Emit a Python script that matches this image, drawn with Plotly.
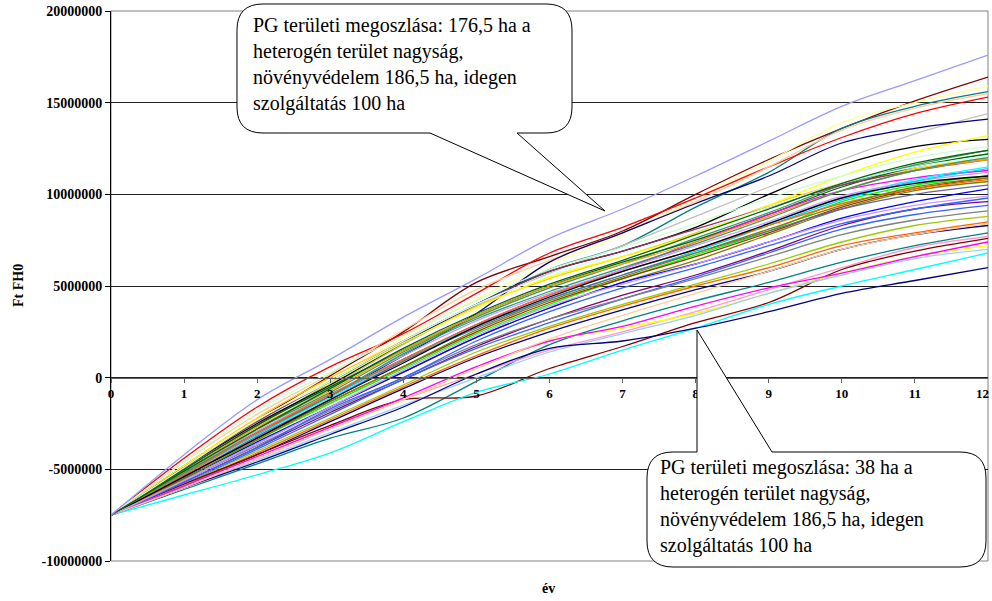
import plotly.graph_objects as go

# ---------------- data (values in million Ft) ----------------
years = list(range(0, 13))
x_tick_labels = [str(v) for v in years]
y_tick_values = [-10000000, -5000000, 0, 5000000, 10000000, 15000000, 20000000]

l01 = [-7.5, -4.2, -1.2, 1.0, 3.3, 5.4, 7.6, 9.2, 11.0, 12.9, 14.8, 16.2, 17.6]
l02 = [-7.5, -4.8, -2.3, 0.1, 2.5, 5.2, 6.6, 8.0, 10.0, 11.9, 13.6, 15.1, 16.4]
l03 = [-7.5, -4.9, -2.4, -0.1, 2.2, 4.3, 6.2, 7.8, 9.8, 11.8, 13.9, 15.0, 15.9]
l04 = [-7.5, -5.0, -2.6, -0.3, 2.0, 4.0, 5.9, 7.2, 9.3, 11.2, 13.6, 14.8, 15.6]
l05 = [-7.5, -4.4, -1.6, 0.6, 2.4, 4.6, 6.8, 8.2, 9.8, 11.5, 13.1, 14.4, 15.3]
l06 = [-7.5, -4.6, -2.0, 0.2, 2.6, 4.8, 6.4, 7.9, 9.6, 11.5, 13.5, 14.7, 15.5]
l07 = [-7.5, -5.2, -2.8, -0.5, 1.8, 3.9, 5.7, 7.2, 8.8, 10.4, 11.9, 13.3, 14.4]
l08 = [-7.5, -5.3, -3.0, -1.0, 1.2, 3.5, 6.3, 7.9, 9.5, 11.0, 12.8, 13.6, 14.1]
l09 = [-7.5, -4.8, -2.2, 0.0, 2.0, 3.9, 5.4, 6.6, 7.9, 9.4, 10.6, 11.4, 12.0]
l10 = [-7.5, -4.9, -2.5, -0.4, 1.9, 4.0, 5.8, 6.9, 8.2, 10.0, 11.6, 12.6, 13.0]
l11 = [-7.5, -4.8, -2.3, -0.3, 1.9, 3.8, 5.5, 6.6, 7.8, 9.4, 11.0, 12.3, 13.2]
l12 = [-7.5, -5.1, -2.8, -0.8, 1.4, 3.3, 4.9, 6.2, 7.6, 9.0, 10.5, 11.6, 12.4]
l13 = [-7.5, -5.0, -2.6, -0.5, 1.5, 3.4, 5.0, 6.3, 7.5, 8.9, 10.4, 11.5, 12.2]
l14 = [-7.5, -4.9, -2.4, -0.2, 2.0, 4.0, 5.8, 6.9, 8.1, 9.3, 10.5, 11.3, 11.9]
l15 = [-7.5, -5.2, -3.0, -1.0, 1.0, 2.9, 4.5, 5.9, 7.4, 8.9, 10.2, 10.9, 11.3]
l16 = [-7.5, -5.3, -3.1, -1.1, 0.9, 2.8, 4.4, 5.8, 7.0, 8.4, 9.8, 10.8, 11.5]
l17 = [-7.5, -5.2, -2.9, -0.9, 1.2, 3.1, 4.6, 5.9, 7.2, 8.5, 9.9, 10.7, 11.2]
l18 = [-7.5, -5.5, -3.4, -1.4, 0.5, 2.4, 4.0, 5.4, 6.7, 8.0, 9.6, 10.5, 11.0]
l19 = [-7.5, -5.4, -3.3, -1.3, 0.6, 2.5, 4.1, 5.4, 6.6, 7.9, 9.3, 10.3, 10.9]
l20 = [-7.5, -5.6, -3.6, -1.6, 0.3, 2.2, 3.8, 5.2, 6.4, 7.8, 9.2, 10.2, 10.7]
l21 = [-7.5, -5.5, -3.5, -1.6, 0.3, 2.2, 3.8, 5.2, 6.2, 7.4, 8.7, 9.6, 10.3]
l22 = [-7.5, -5.7, -3.8, -1.9, -0.1, 1.7, 3.2, 4.5, 5.6, 6.9, 8.3, 9.2, 9.6]
l23 = [-7.5, -5.8, -3.9, -2.0, -0.1, 1.6, 3.0, 4.3, 5.5, 6.8, 8.1, 8.9, 9.4]
l24 = [-7.5, -5.6, -3.7, -1.8, 0.0, 1.8, 3.2, 4.3, 5.4, 6.6, 7.8, 8.6, 9.1]
l25 = [-7.5, -5.8, -4.0, -2.2, -0.4, 1.4, 2.8, 4.0, 5.1, 6.2, 7.4, 8.3, 8.8]
l26 = [-7.5, -5.9, -4.1, -2.3, -0.5, 1.2, 2.7, 3.9, 5.0, 6.0, 7.2, 7.9, 8.5]
l27 = [-7.5, -5.9, -4.2, -2.4, -0.6, 1.1, 2.5, 3.7, 4.8, 5.8, 7.0, 7.8, 8.3]
l28 = [-7.5, -6.1, -4.7, -3.3, -2.2, -0.2, 1.8, 3.1, 4.2, 5.2, 6.3, 7.2, 7.9]
l29 = [-7.5, -6.0, -4.4, -2.8, -1.2, 0.2, 1.5, 2.5, 3.6, 4.8, 6.0, 7.1, 7.7]
l30 = [-7.5, -5.8, -4.2, -2.6, -1.2, -1.0, 0.5, 1.7, 3.0, 4.1, 5.9, 6.9, 7.6]
l31 = [-7.5, -5.9, -4.3, -2.7, -1.2, 0.5, 2.0, 2.7, 3.5, 4.6, 5.7, 6.6, 7.2]
l32 = [-7.5, -6.0, -4.5, -3.0, -1.5, 0.0, 1.4, 2.4, 3.4, 4.6, 5.6, 6.5, 7.0]
l33 = [-7.5, -6.4, -5.3, -4.1, -2.4, -0.8, 0.2, 1.5, 2.7, 4.0, 5.0, 5.9, 6.8]
l34 = [-7.5, -6.0, -4.6, -3.1, -1.6, 0.2, 1.6, 2.0, 2.7, 3.6, 4.6, 5.3, 6.0]
l35 = [-7.5, -5.9, -4.3, -2.7, -1.1, 0.6, 2.0, 2.8, 3.9, 4.9, 5.7, 6.6, 7.4]
l36 = [-7.5, -5.3, -3.1, -1.0, 1.0, 2.8, 4.3, 5.6, 6.9, 8.3, 9.7, 10.7, 11.4]
l37 = [-7.5, -4.6, -1.8, 0.3, 2.3, 4.2, 5.9, 7.1, 8.4, 9.8, 11.0, 12.0, 12.6]
l38 = [-7.5, -4.9, -2.3, -0.2, 2.0, 4.0, 5.6, 6.8, 8.0, 9.3, 10.6, 11.5, 12.1]
l39 = [-7.5, -5.1, -2.7, -0.7, 1.5, 3.4, 5.0, 6.2, 7.4, 8.8, 10.2, 11.3, 11.9]
l40 = [-7.5, -5.4, -3.2, -1.2, 0.9, 2.7, 4.3, 5.6, 6.8, 8.0, 9.2, 10.0, 10.5]
l41 = [-7.5, -5.2, -3.0, -1.0, 1.3, 3.2, 4.7, 6.0, 7.3, 8.7, 10.2, 11.3, 12.0]
l42 = [-7.5, -5.7, -3.8, -1.7, 0.0, 2.0, 3.6, 4.9, 6.0, 7.2, 8.4, 9.2, 9.8]
l43 = [-7.5, -5.3, -3.0, -0.9, 1.0, 2.9, 4.5, 5.8, 7.0, 8.3, 9.5, 10.3, 10.8]
l44 = [-7.5, -5.5, -3.4, -1.3, 0.6, 2.6, 4.2, 5.5, 6.8, 8.1, 9.4, 10.4, 10.9]
l45 = [-7.5, -6.0, -4.4, -2.8, -1.2, 0.5, 2.1, 3.4, 4.6, 5.8, 7.0, 7.8, 8.4]
l46 = [-7.5, -5.4, -3.3, -1.2, 0.8, 2.8, 4.4, 5.8, 7.0, 8.4, 9.8, 10.6, 11.0]
l47 = [-7.5, -5.6, -3.6, -1.6, 0.4, 2.3, 3.9, 5.1, 6.2, 7.4, 8.6, 9.4, 9.9]
l48 = [-7.5, -5.1, -2.8, -0.6, 1.6, 3.5, 5.1, 6.4, 7.8, 9.2, 10.6, 11.7, 12.4]

series_values = [l02, l03, l04, l05, l06, l07, l08, l09, l10, l11, l12, l13,
                 l14, l15, l16, l17, l18, l19, l20, l21, l22, l23, l24, l25,
                 l26, l27, l28, l29, l30, l31, l32, l33, l34, l35, l36, l37,
                 l38, l39, l40, l41, l42, l43, l44, l45, l46, l47, l48, l01]
series_colors = ["#800000", "#FFFF99", "#008080", "#FF0000", "#FFCC99",
                 "#C0C0C0", "#000080", "#FFCC00", "#000000", "#FFFF00", "#339966",
                 "#006600", "#993366", "#FF00FF", "#00FFFF", "#CC99FF", "#00FF00",
                 "#993300", "#808000", "#0000FF", "#800080", "#3366FF", "#808080",
                 "#99CC00", "#FF6600", "#000080", "#008080", "#FF99CC", "#800000",
                 "#FFFF00", "#99CCFF", "#00FFFF", "#000080", "#FF00FF", "#00CCFF",
                 "#CCFFCC", "#CCFFFF", "#FF9900", "#666699", "#339966", "#3366FF",
                 "#FF6600", "#808000", "#FFCC99", "#000000", "#CC99FF", "#006600",
                 "#9999FF"]

callout_top_text = ("PG területi megoszlása: 176,5 ha a<br>heterogén terület nagyság,"
                    "<br>növényvédelem 186,5 ha, idegen<br>szolgáltatás 100 ha")
callout_bottom_text = ("PG területi megoszlása: 38 ha a<br>heterogén terület nagyság,"
                       "<br>növényvédelem 186,5 ha, idegen<br>szolgáltatás 100 ha")

# ---------------- figure ----------------
W, H = 992, 601
ML, MR, MT, MB = 111, 4, 11, 40
PW, PH = W - ML - MR, H - MT - MB


def px(xp):
    return (xp - ML) / PW


def py(yp):
    return (H - MB - yp) / PH


fig = go.Figure()
for vals, col in zip(series_values, series_colors):
    fig.add_trace(go.Scatter(
        x=years, y=[v * 1e6 for v in vals], mode="lines",
        line=dict(color=col, width=1.3, shape="spline", smoothing=1.0),
        showlegend=False, hoverinfo="skip"))

serif = "Liberation Serif"


def callout_path(x0, y0, x1, y1, r, side, b0, b1, tip):
    # rounded rect with a wedge on top or bottom edge (pixel coords)
    P = lambda a, b: f"{px(a):.5f},{py(b):.5f}"
    s = f"M {P(x0 + r, y0)} "
    if side == "top":
        s += f"L {P(b0, y0)} L {P(*tip)} L {P(b1, y0)} "
    s += f"L {P(x1 - r, y0)} Q {P(x1, y0)} {P(x1, y0 + r)} "
    s += f"L {P(x1, y1 - r)} Q {P(x1, y1)} {P(x1 - r, y1)} "
    if side == "bottom":
        s += f"L {P(b1, y1)} L {P(*tip)} L {P(b0, y1)} "
    s += f"L {P(x0 + r, y1)} Q {P(x0, y1)} {P(x0, y1 - r)} "
    s += f"L {P(x0, y0 + r)} Q {P(x0, y0)} {P(x0 + r, y0)} Z"
    return s


fig.add_shape(type="path", xref="paper", yref="paper",
              path=callout_path(237, 4, 572, 133, 26, "bottom", 430, 517, (605, 211)),
              line=dict(color="black", width=1), fillcolor="white", layer="above")
fig.add_shape(type="path", xref="paper", yref="paper",
              path=callout_path(647, 452, 986, 567, 26, "top", 697, 772, (697, 330)),
              line=dict(color="black", width=1), fillcolor="white", layer="above")

fig.add_annotation(xref="paper", yref="paper", x=px(251), y=py(12),
                   xanchor="left", yanchor="top", align="left", showarrow=False,
                   text=callout_top_text, font=dict(family=serif, size=20, color="black"))
fig.add_annotation(xref="paper", yref="paper", x=px(658), y=py(454),
                   xanchor="left", yanchor="top", align="left", showarrow=False,
                   text=callout_bottom_text, font=dict(family=serif, size=20, color="black"))

fig.add_annotation(xref="paper", yref="paper", x=px(18), y=0.5, textangle=-90,
                   xanchor="center", yanchor="middle",
                   showarrow=False, text="<b>Ft FH0</b>",
                   font=dict(family=serif, size=14, color="black"))
fig.add_annotation(xref="paper", yref="paper", x=px(548), y=py(588),
                   xanchor="center", yanchor="middle",
                   showarrow=False, text="<b>év</b>",
                   font=dict(family=serif, size=14, color="black"))
# last x tick label, nudged left so it stays inside the picture
fig.add_annotation(xref="x", yref="y", x=years[-1], y=0, xanchor="right",
                   yanchor="top", yshift=-6, xshift=3, showarrow=False,
                   text="<b>%s</b>" % x_tick_labels[-1],
                   font=dict(family=serif, size=13, color="black"))

# plot-area border
fig.add_shape(type="rect", xref="paper", yref="paper", x0=0, y0=0, x1=1, y1=1,
              line=dict(color="#808080", width=1), layer="below")

fig.update_layout(
    width=W, height=H,
    margin=dict(l=ML, r=MR, t=MT, b=MB, autoexpand=False),
    paper_bgcolor="white", plot_bgcolor="white",
    showlegend=False,
    xaxis=dict(range=[0, 12], tickmode="array", tickvals=years[:-1],
               ticktext=["<b>%s</b>" % t for t in x_tick_labels[:-1]],
               showgrid=False, zeroline=False, showline=True, linecolor="#606060",
               linewidth=1, ticks="outside", ticklen=4, tickcolor="#606060",
               anchor="free", position=10 / 30,
               tickfont=dict(family=serif, size=13, color="black")),
    yaxis=dict(range=[-10000000, 20000000], tickmode="array", tickvals=y_tick_values,
               ticktext=["<b>%d</b>" % v for v in y_tick_values],
               showgrid=True, gridcolor="#202020", gridwidth=1, zeroline=False,
               showline=True, linecolor="black", linewidth=1,
               ticks="outside", ticklen=5, tickcolor="black",
               tickfont=dict(family=serif, size=14, color="black")),
)

fig.write_html("out.html", config={"displayModeBar": False},
               post_script="document.body.style.margin='0px';")
